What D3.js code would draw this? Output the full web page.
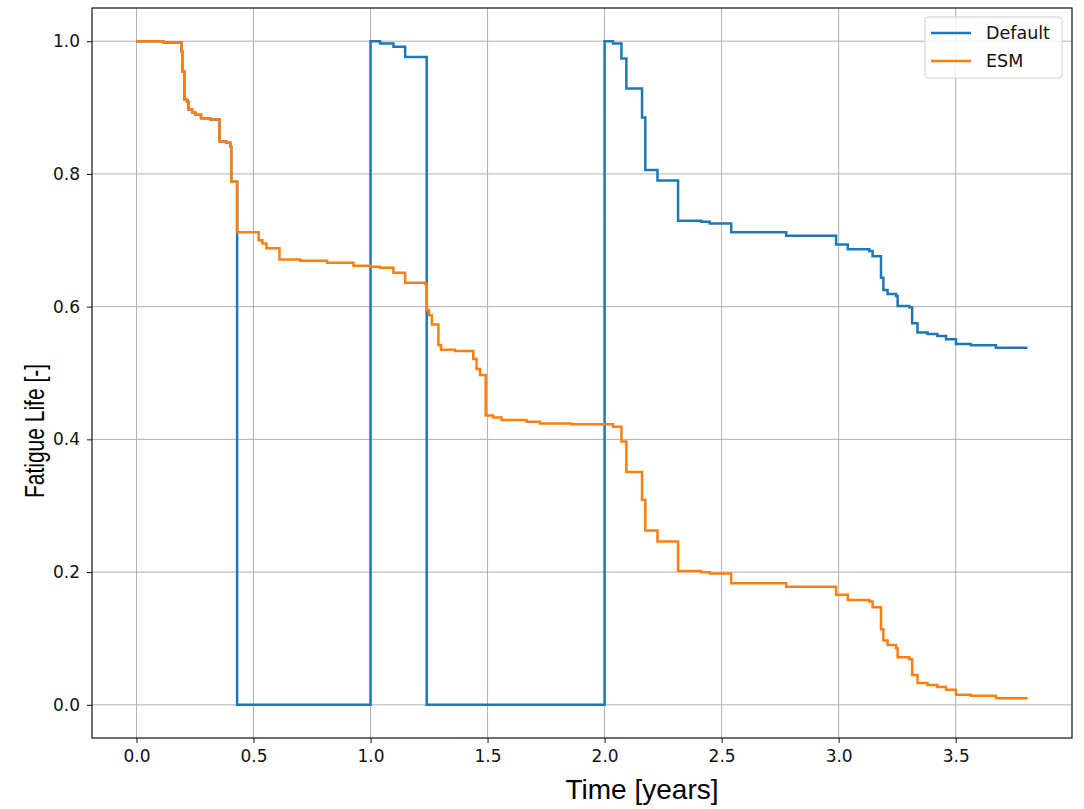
<!DOCTYPE html>
<html>
<head>
<meta charset="utf-8">
<script src="https://cdn.jsdelivr.net/npm/d3@7"></script>
<style>
  body { margin: 0; background: #fff; }
  svg { display: block; }
</style>
</head>
<body>
<div id="chart"></div>
<script>
// step data: [time in years, fatigue life]
const esmTimes = [0, 0.115, 0.192, 0.196, 0.205, 0.216, 0.222, 0.238, 0.252, 0.276, 0.316, 0.355,
  0.384, 0.401, 0.405, 0.43, 0.522, 0.538, 0.555, 0.611, 0.70, 0.814, 0.927, 0.998, 1.041, 1.098,
  1.148, 1.233, 1.240, 1.250, 1.262, 1.290, 1.301, 1.361, 1.439, 1.453, 1.468, 1.492, 1.524, 1.560,
  1.667, 1.724, 1.859, 2.036, 2.072, 2.093, 2.160, 2.174, 2.226, 2.314, 2.413, 2.449, 2.541, 2.776,
  2.989, 3.039, 3.131, 3.145, 3.181, 3.191, 3.209, 3.245, 3.252, 3.302, 3.314, 3.337, 3.380, 3.422,
  3.459, 3.501, 3.565, 3.672, 3.807];
const esmValues = [1.0, 0.998, 0.985, 0.954, 0.912, 0.909, 0.897, 0.892, 0.889, 0.884, 0.882, 0.849,
  0.847, 0.841, 0.788, 0.712, 0.700, 0.695, 0.688, 0.671, 0.669, 0.666, 0.6616, 0.660, 0.6586, 0.651,
  0.636, 0.634, 0.595, 0.587, 0.573, 0.542, 0.535, 0.533, 0.521, 0.506, 0.497, 0.436, 0.433, 0.429,
  0.4267, 0.424, 0.4227, 0.419, 0.3966, 0.351, 0.309, 0.2625, 0.246, 0.2018, 0.1999, 0.1978, 0.1832, 0.178,
  0.1657, 0.158, 0.1556, 0.147, 0.114, 0.0969, 0.090, 0.0853, 0.0718, 0.0688, 0.045, 0.0327, 0.030, 0.0267,
  0.0226, 0.015, 0.0136, 0.010, 0.010];

const defaultTimes = [0, 0.115, 0.192, 0.196, 0.205, 0.216, 0.222, 0.238, 0.252, 0.276, 0.316, 0.355,
  0.384, 0.401, 0.405, 0.43, 0.43, 1.0, 1.041, 1.098, 1.148, 1.24, 2.0, 2.036, 2.072, 2.093, 2.160,
  2.174, 2.226, 2.314, 2.413, 2.449, 2.541, 2.776, 2.989, 3.039, 3.131, 3.145, 3.181, 3.191, 3.209,
  3.245, 3.252, 3.302, 3.314, 3.337, 3.380, 3.422, 3.459, 3.501, 3.565, 3.672, 3.807];
const defaultValues = [1.0, 0.998, 0.985, 0.954, 0.912, 0.909, 0.897, 0.892, 0.889, 0.884, 0.882, 0.849,
  0.847, 0.841, 0.788, 0.712, 0, 1.0, 0.9965, 0.9915, 0.976, 0, 1.0, 0.9965, 0.974, 0.9287, 0.885,
  0.806, 0.790, 0.7294, 0.728, 0.7254, 0.712, 0.7068, 0.6938, 0.6863, 0.684, 0.676, 0.6435, 0.625, 0.619,
  0.616, 0.601, 0.599, 0.575, 0.561, 0.5587, 0.5557, 0.551, 0.5437, 0.542, 0.538, 0.538];

const xTicks = [0.0, 0.5, 1.0, 1.5, 2.0, 2.5, 3.0, 3.5];
const yTicks = [0.0, 0.2, 0.4, 0.6, 0.8, 1.0];

const seriesNames = ["Default", "ESM"];
const seriesColors = ["#1f77b4", "#ff7f0e"];

const series = [
  {name: seriesNames[0], color: seriesColors[0], pts: defaultTimes.map((t, i) => [t, defaultValues[i]])},
  {name: seriesNames[1], color: seriesColors[1], pts: esmTimes.map((t, i) => [t, esmValues[i]])}
];

const width = 1084, height = 809;
const margin = {top: 8, right: 12, bottom: 71, left: 92};
const visWidth = width - margin.left - margin.right;
const visHeight = height - margin.top - margin.bottom;

const svg = d3.select("#chart").append("svg")
  .attr("width", width)
  .attr("height", height);

const g = svg.append("g")
  .attr("transform", "translate(" + margin.left + "," + margin.top + ")");

// matplotlib style 5% margins
const x = d3.scaleLinear().domain([-0.19, 3.997]).range([0, visWidth]);
const y = d3.scaleLinear().domain([-0.05, 1.05]).range([visHeight, 0]);

// grid
g.append("g").selectAll("line")
  .data(xTicks).join("line")
  .attr("x1", d => x(d)).attr("x2", d => x(d))
  .attr("y1", 0).attr("y2", visHeight)
  .attr("stroke", "#b0b0b0").attr("stroke-width", 1);
g.append("g").selectAll("line")
  .data(yTicks).join("line")
  .attr("y1", d => y(d)).attr("y2", d => y(d))
  .attr("x1", 0).attr("x2", visWidth)
  .attr("stroke", "#b0b0b0").attr("stroke-width", 1);

// lines
const line = d3.line()
  .x(d => x(d[0]))
  .y(d => y(d[1]))
  .curve(d3.curveStepAfter);

g.selectAll(".series")
  .data(series).join("path")
  .attr("class", "series")
  .attr("fill", "none")
  .attr("stroke", d => d.color)
  .attr("stroke-width", 2.5)
  .attr("stroke-linejoin", "miter")
  .attr("d", d => line(d.pts));

// axes
const xAxis = g.append("g")
  .attr("transform", "translate(0," + visHeight + ")")
  .call(d3.axisBottom(x).tickValues(xTicks).tickFormat(d3.format(".1f")).tickSizeOuter(0).tickSize(5).tickPadding(7));
const yAxis = g.append("g")
  .call(d3.axisLeft(y).tickValues(yTicks).tickFormat(d3.format(".1f")).tickSizeOuter(0).tickSize(5).tickPadding(7));

[xAxis, yAxis].forEach(a => {
  a.select(".domain").remove();
  a.selectAll("text")
    .attr("font-family", "DejaVu Sans, sans-serif")
    .attr("font-size", 17)
    .attr("fill", "#111");
  a.selectAll("line").attr("stroke", "#111");
});

// frame
g.append("rect")
  .attr("width", visWidth).attr("height", visHeight)
  .attr("fill", "none").attr("stroke", "#111").attr("stroke-width", 1.2);

// axis labels
svg.append("text")
  .attr("x", 642).attr("y", 799)
  .attr("text-anchor", "middle")
  .attr("font-family", "Liberation Sans, Arial, sans-serif")
  .attr("font-size", 28)
  .text("Time [years]");

svg.append("text")
  .attr("transform", "translate(44,431) rotate(-90) scale(0.75,1)")
  .attr("text-anchor", "middle")
  .attr("font-family", "Liberation Sans, Arial, sans-serif")
  .attr("font-size", 28)
  .text("Fatigue Life [-]");

// legend
const legend = g.append("g").attr("transform", "translate(" + (visWidth - 147) + ",9)");
legend.append("rect")
  .attr("width", 137).attr("height", 61).attr("rx", 3)
  .attr("fill", "#fff").attr("fill-opacity", 0.8)
  .attr("stroke", "#d0d0d0");
series.forEach((s, i) => {
  const yy = 16 + i * 28;
  legend.append("line")
    .attr("x1", 6).attr("x2", 46).attr("y1", yy).attr("y2", yy)
    .attr("stroke", s.color).attr("stroke-width", 2.5);
  legend.append("text")
    .attr("x", 61).attr("y", yy).attr("dy", "0.35em")
    .attr("font-family", "DejaVu Sans, sans-serif")
    .attr("font-size", 17.5)
    .attr("fill", "#111")
    .text(s.name);
});
</script>
</body>
</html>
